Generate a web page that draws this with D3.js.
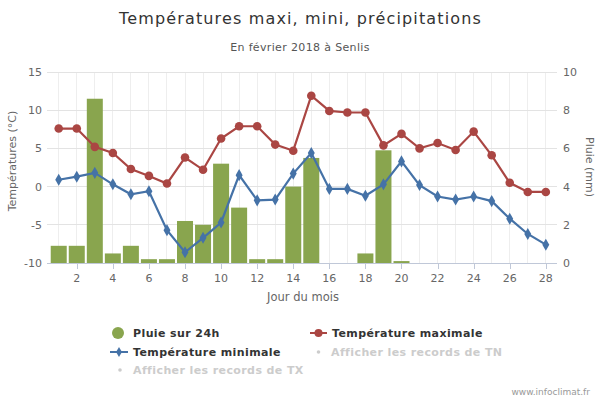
<!DOCTYPE html>
<html><head><meta charset="utf-8">
<script src="https://cdn.jsdelivr.net/npm/d3@7"></script>
<style>body{margin:0;background:#fff;}svg{display:block;font-family:"DejaVu Sans",sans-serif;}</style>
</head><body><svg id="c" width="600" height="400"></svg>
<script>
const days = d3.range(1, 29);
const tMax = [7.6,7.6,5.2,4.4,2.3,1.4,0.4,3.8,2.2,6.3,7.9,7.9,5.5,4.7,11.9,9.9,9.7,9.7,5.4,6.9,5.0,5.7,4.8,7.2,4.1,0.5,-0.7,-0.7];
const tMin = [0.9,1.3,1.8,0.3,-1.0,-0.6,-5.7,-8.6,-6.7,-4.7,1.5,-1.8,-1.7,1.7,4.4,-0.3,-0.3,-1.2,0.3,3.3,0.2,-1.3,-1.7,-1.3,-1.9,-4.2,-6.2,-7.6];
const rain = [0.9,0.9,8.6,0.5,0.9,0.2,0.2,2.2,2.0,5.2,2.9,0.2,0.2,4.0,5.5,0,0,0.5,5.9,0.1,0,0,0,0,0,0,0,0];
const tempTicks = [-10,-5,0,5,10,15];
const rainTicks = [0,2,4,6,8,10];
const xTicks = [2,4,6,8,10,12,14,16,18,20,22,24,26,28];

const C = {max:"#AA4643", min:"#4572A7", rain:"#89A54E"};
const svg = d3.select("#c");
const L = 47, R = 557, T = 72, B = 263;
const x = d3.scaleLinear().domain([0.35, 28.62]).range([L, R]);
const yT = d3.scaleLinear().domain([-10, 15]).range([B, T]);
const yR = d3.scaleLinear().domain([0, 10]).range([B, T]);

// title
svg.append("text").attr("x", 300.5).attr("y", 24).attr("text-anchor","middle")
  .attr("font-size", 16).attr("letter-spacing", 1.15).attr("fill","#333").text("Températures maxi, mini, précipitations");
svg.append("text").attr("x", 300).attr("y", 51).attr("text-anchor","middle")
  .attr("font-size", 11).attr("letter-spacing", 0.35).attr("fill","#555").text("En février 2018 à Senlis");

// vertical gridlines
svg.append("g").selectAll("line").data(days).join("line")
  .attr("x1", d=>x(d)).attr("x2", d=>x(d)).attr("y1", T).attr("y2", B)
  .attr("stroke","#eeeeee").attr("stroke-width",1).attr("shape-rendering","crispEdges");
// horizontal gridlines
svg.append("g").selectAll("line").data(tempTicks).join("line")
  .attr("x1", L).attr("x2", R).attr("y1", d=>yT(d)).attr("y2", d=>yT(d))
  .attr("stroke","#e3e3e3").attr("stroke-width",1).attr("shape-rendering","crispEdges");

// left axis labels
svg.append("g").selectAll("text").data(tempTicks).join("text")
  .attr("x", 42).attr("y", d=>yT(d)+4).attr("text-anchor","end")
  .attr("font-size", 11).attr("fill","#666").text(d=>d);
// right axis labels
svg.append("g").selectAll("text").data(rainTicks).join("text")
  .attr("x", 563).attr("y", d=>yR(d)+4).attr("text-anchor","start")
  .attr("font-size", 11).attr("fill","#666").text(d=>d);

// bottom axis
svg.append("line").attr("x1", L).attr("x2", R).attr("y1", B+0.5).attr("y2", B+0.5)
  .attr("stroke","#c0c8d8");
svg.append("g").selectAll("line").data(xTicks).join("line")
  .attr("x1", d=>Math.round(x(d))+0.5).attr("x2", d=>Math.round(x(d))+0.5).attr("y1", B).attr("y2", B+6)
  .attr("stroke","#c0c8d8");
svg.append("g").selectAll("text").data(xTicks).join("text")
  .attr("x", d=>x(d)).attr("y", B+19).attr("text-anchor","middle")
  .attr("font-size", 11).attr("fill","#666").text(d=>d);

// axis titles
svg.append("text").attr("transform","translate(16,161) rotate(-90)").attr("text-anchor","middle")
  .attr("font-size", 11).attr("fill","#666").text("Températures (°C)");
svg.append("text").attr("transform","translate(586,167) rotate(90)").attr("text-anchor","middle")
  .attr("font-size", 11).attr("fill","#666").text("Pluie (mm)");
svg.append("text").attr("x", 303).attr("y", 301).attr("text-anchor","middle")
  .attr("font-size", 11.5).attr("fill","#666").text("Jour du mois");

// bars
const bw = 16;
svg.append("g").selectAll("rect").data(days.map((d,i)=>({d, v:rain[i]})).filter(o=>o.v>0)).join("rect")
  .attr("x", o=>x(o.d)-bw/2).attr("width", bw)
  .attr("y", o=>yR(o.v)).attr("height", o=>B-yR(o.v)).attr("fill", C.rain);

// lines
const line = d3.line().x((v,i)=>x(days[i])).y(v=>yT(v));
svg.append("path").attr("d", line(tMax)).attr("fill","none").attr("stroke",C.max).attr("stroke-width",2.2);
svg.append("g").selectAll("circle").data(tMax).join("circle")
  .attr("cx",(v,i)=>x(days[i])).attr("cy", v=>yT(v)).attr("r",4.3).attr("fill",C.max);
svg.append("path").attr("d", line(tMin)).attr("fill","none").attr("stroke",C.min).attr("stroke-width",2.2);
const diamond = d3.symbol().type(d3.symbolDiamond).size(42);
svg.append("g").selectAll("path").data(tMin).join("path")
  .attr("transform",(v,i)=>`translate(${x(days[i])},${yT(v)})`).attr("d", diamond()).attr("fill",C.min);

// legend
const lg = svg.append("g").attr("font-size",11).attr("font-weight","bold").attr("letter-spacing",0.4);
// row1
lg.append("circle").attr("cx",118).attr("cy",333).attr("r",6).attr("fill",C.rain);
lg.append("text").attr("x",133).attr("y",337).attr("fill","#333").text("Pluie sur 24h");
lg.append("line").attr("x1",310).attr("x2",327).attr("y1",333).attr("y2",333).attr("stroke",C.max).attr("stroke-width",2);
lg.append("circle").attr("cx",318.5).attr("cy",333).attr("r",4).attr("fill",C.max);
lg.append("text").attr("x",332).attr("y",337).attr("fill","#333").text("Température maximale");
// row2
lg.append("line").attr("x1",110).attr("x2",128).attr("y1",352).attr("y2",352).attr("stroke",C.min).attr("stroke-width",2);
lg.append("path").attr("transform","translate(119,352)").attr("d", d3.symbol().type(d3.symbolDiamond).size(30)()).attr("fill",C.min);
lg.append("text").attr("x",133).attr("y",356).attr("fill","#333").text("Température minimale");
lg.append("circle").attr("cx",318.5).attr("cy",352).attr("r",1.8).attr("fill","#ccc");
lg.append("text").attr("x",331).attr("y",356).attr("fill","#ccc").text("Afficher les records de TN");
// row3
lg.append("circle").attr("cx",120).attr("cy",370).attr("r",1.8).attr("fill","#ccc");
lg.append("text").attr("x",133).attr("y",374).attr("fill","#ccc").text("Afficher les records de TX");

svg.append("text").attr("x",590).attr("y",395).attr("text-anchor","end")
  .attr("font-size",9).attr("fill","#999").text("www.infoclimat.fr");
</script></body></html>
